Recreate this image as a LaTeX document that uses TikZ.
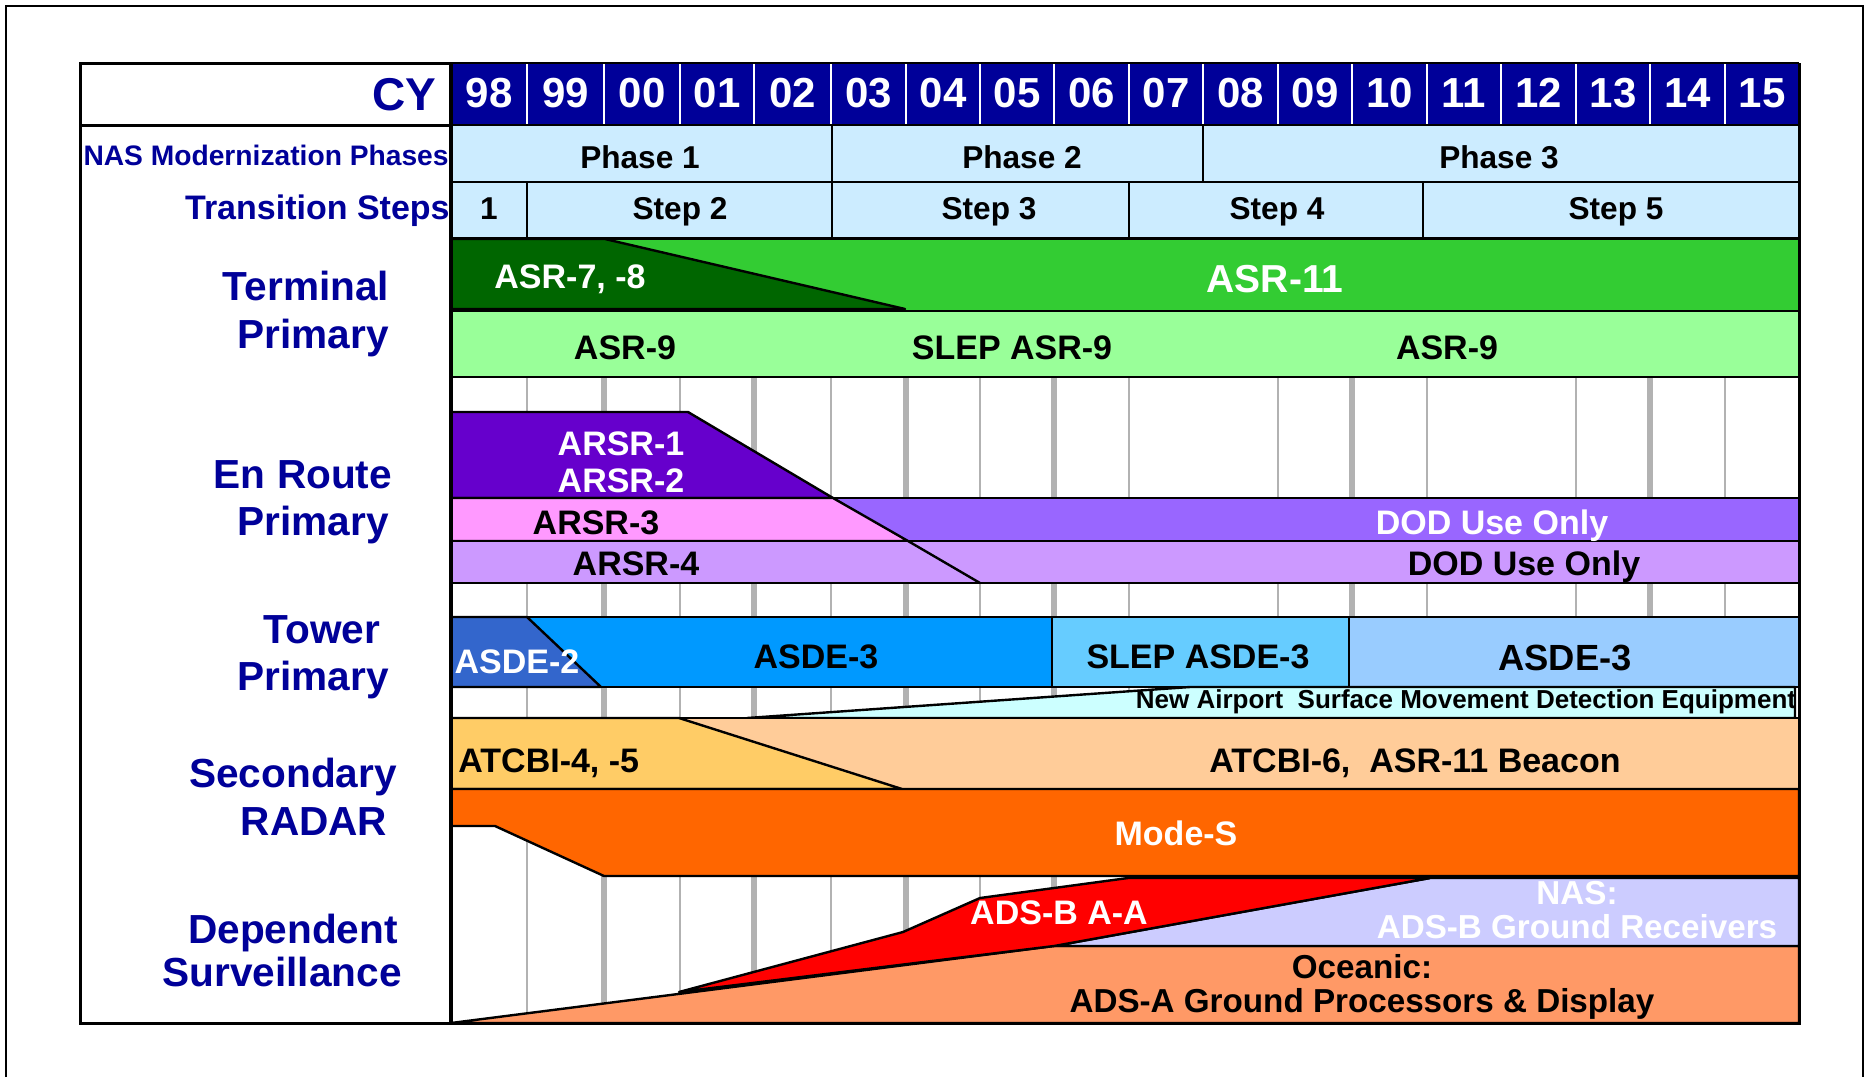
\documentclass[tikz,border=0pt]{standalone}
\usepackage{fontspec}
\setmainfont{Liberation Sans}
\definecolor{navy}{HTML}{000099}
\definecolor{phasebg}{HTML}{CCECFF}
\definecolor{gridgray}{HTML}{B2B2B2}
\definecolor{asrlime}{HTML}{33CC33}
\definecolor{asrdark}{HTML}{006600}
\definecolor{asrnine}{HTML}{99FF99}
\definecolor{arsrone}{HTML}{6600CC}
\definecolor{arsrthree}{HTML}{FF99FF}
\definecolor{dodpurple}{HTML}{9966FF}
\definecolor{arsrfour}{HTML}{CC99FF}
\definecolor{asdetwo}{HTML}{3366CC}
\definecolor{asdethree}{HTML}{0099FF}
\definecolor{slepasde}{HTML}{66CCFF}
\definecolor{asdelight}{HTML}{99CCFF}
\definecolor{newasde}{HTML}{CCFFFF}
\definecolor{atcbiold}{HTML}{FFCC66}
\definecolor{atcbinew}{HTML}{FFCC99}
\definecolor{modes}{HTML}{FF6600}
\definecolor{adsbred}{HTML}{FF0000}
\definecolor{naslav}{HTML}{CCCCFF}
\definecolor{oceanic}{HTML}{FF9966}
\begin{document}
\begin{tikzpicture}[x=0.5pt,y=-0.5pt,
  band/.style={draw=black,line width=1.2pt,line join=round},
  cell/.style={draw=black,line width=1.2pt,fill=phasebg},
  thingrid/.style={draw=gridgray,line width=1.1pt},
  thickgrid/.style={draw=gridgray,line width=3.4pt},
  lbl/.style={font=\fontsize{17}{20}\selectfont\bfseries,anchor=base,inner sep=0pt},
  lblw/.style={lbl,text=white},
  small/.style={font=\fontsize{16.6}{20}\selectfont\bfseries},
  hdr/.style={font=\fontsize{15.8}{19}\selectfont\bfseries,anchor=base,inner sep=0pt},
  yr/.style={font=\fontsize{21}{25}\selectfont\bfseries,text=white,anchor=base,inner sep=0pt},
  side/.style={font=\fontsize{20.3}{24}\selectfont\bfseries,text=navy,anchor=base,inner sep=0pt}]
\path[use as bounding box,fill=white] (0,0) rectangle (1867,1077);
% outer frame
\draw[line width=1.2pt] (6,1077) -- (6,6) -- (1863,6) -- (1863,1077);
% grid lines
\foreach \x in {527,680,831,980,1129,1278,1427,1576,1725}
  \draw[thingrid] (\x,239) -- (\x,1023);
\foreach \x in {604,754,906,1054,1352,1650}
  \draw[thickgrid] (\x,239) -- (\x,1023);
% Terminal primary
\draw[band,fill=asrlime] (451,239) rectangle (1799,311);
\draw[band,fill=asrdark] (451,239) -- (605,239) -- (905,309) -- (451,309) -- cycle;
\draw[band,fill=asrnine] (451,311) rectangle (1799,377);
% En route primary
\draw[band,fill=arsrone] (451,412) -- (688,412) -- (833,498) -- (451,498) -- cycle;
\draw[band,fill=dodpurple] (451,498) rectangle (1799,541);
\draw[band,fill=arsrthree] (451,498) -- (833,498) -- (908,541) -- (451,541) -- cycle;
\draw[band,fill=arsrfour] (451,541) rectangle (1799,583);
\draw[band] (908,541) -- (980,583);
% Tower primary
\draw[band,fill=asdethree] (451,617) rectangle (1052,687);
\draw[band,fill=asdetwo] (451,617) -- (527,617) -- (601,687) -- (451,687) -- cycle;
\draw[band,fill=slepasde] (1052,617) rectangle (1349,687);
\draw[band,fill=asdelight] (1349,617) rectangle (1799,687);
\draw[band,fill=newasde] (747,718) -- (1190,687) -- (1795,687) -- (1795,718) -- cycle;
% Secondary radar
\draw[band,fill=atcbinew] (451,718) rectangle (1799,789);
\draw[band,fill=atcbiold] (451,718) -- (679,718) -- (902,789) -- (451,789) -- cycle;
\draw[band,fill=modes] (451,789) -- (1799,789) -- (1799,876) -- (604,876) -- (495,826) -- (451,826) -- cycle;
% Dependent surveillance
\draw[band,fill=oceanic] (451,1023) -- (1054,946) -- (1799,946) -- (1799,1023) -- cycle;
\draw[band,fill=naslav] (1430,878) -- (1799,878) -- (1799,946) -- (1054,946) -- cycle;
\draw[band,fill=adsbred] (679,992) -- (903,932) -- (980,898) -- (1128,878) -- (1430,878) -- (1054,946) -- cycle;
% header: years
\foreach \a/\b/\t in {451/527/98,527/604/99,604/680/00,680/754/01,754/831/02,831/906/03,906/980/04,980/1054/05,1054/1129/06,1129/1203/07,1203/1278/08,1278/1352/09,1352/1427/10,1427/1501/11,1501/1576/12,1576/1650/13,1650/1725/14,1725/1799/15}{
  \fill[navy] (\a,63) rectangle (\b,125);
  \node[yr] (yr\t) at ({(\a+\b)/2},107) {\t};
}
\foreach \x in {527,604,680,754,831,906,980,1054,1129,1203,1278,1352,1427,1501,1576,1650,1725}
  \draw[white,line width=1pt] (\x,64) -- (\x,124);
\draw[line width=1.4pt] (451,63) -- (1799,63);
% phases
\draw[cell] (451,125) rectangle (832,182);
\draw[cell] (832,125) rectangle (1203,182);
\draw[cell] (1203,125) rectangle (1799,182);
% steps
\draw[cell] (451,182) rectangle (527,238);
\draw[cell] (527,182) rectangle (832,238);
\draw[cell] (832,182) rectangle (1129,238);
\draw[cell] (1129,182) rectangle (1423,238);
\draw[cell] (1423,182) rectangle (1799,238);
% table frame
\draw[line width=1.5pt] (80,63) rectangle (451,1023);
\draw[line width=1.5pt] (80,125) -- (451,125);
\draw[line width=1.5pt] (451,1023) -- (1799,1023) -- (1799,63);
\draw[line width=2pt] (451,63) -- (451,1023);
% header texts
\node[font=\fontsize{23}{27}\selectfont\bfseries,text=navy,anchor=base east,inner sep=0pt] (cy) at (437,110) {CY};
\node[font=\fontsize{14.1}{17}\selectfont\bfseries,text=navy,anchor=base east,inner sep=0pt] (nasphases) at (449,165) {NAS Modernization Phases};
\node[font=\fontsize{17}{20}\selectfont\bfseries,text=navy,anchor=base east,inner sep=0pt] (tsteps) at (450,219) {Transition Steps};
\node[hdr] (ph1) at (640,168) {Phase 1};
\node[hdr] (ph2) at (1022,168) {Phase 2};
\node[hdr] (ph3) at (1499,168) {Phase 3};
\node[hdr] (st1) at (489,219) {1};
\node[hdr] (st2) at (680,219) {Step 2};
\node[hdr] (st3) at (989,219) {Step 3};
\node[hdr] (st4) at (1277,219) {Step 4};
\node[hdr] (st5) at (1616,219) {Step 5};
% side labels
\node[side] (sterm) at (306,300) {Terminal};
\node[side] (sprim1) at (313,348) {Primary};
\node[side] (senr) at (303,488) {En Route};
\node[side] (sprim2) at (313,535) {Primary};
\node[side] (stow) at (322,643) {Tower};
\node[side] (sprim3) at (313,690) {Primary};
\node[side] (ssec) at (293,787) {Secondary};
\node[side] (srad) at (314,835) {RADAR};
\node[side] (sdep) at (293,943) {Dependent};
\node[side] (ssur) at (282,986) {Surveillance};
% band labels
\node[lblw] (asr78) at (570,288) {ASR-7, -8};
\node[lblw,font=\fontsize{19.5}{23}\selectfont\bfseries] (asr11) at (1275,292) {ASR-11};
\node[lbl] (asr9a) at (625,359) {ASR-9};
\node[lbl] (slepasr) at (1012,359) {SLEP ASR-9};
\node[lbl] (asr9b) at (1447,359) {ASR-9};
\node[lblw] (arsr1) at (621,455) {ARSR-1};
\node[lblw] (arsr2) at (621,492) {ARSR-2};
\node[lbl] (arsr3) at (596,534) {ARSR-3};
\node[lblw] (dod1) at (1492,534) {DOD Use Only};
\node[lbl] (arsr4) at (636,575) {ARSR-4};
\node[lbl] (dod2) at (1524,575) {DOD Use Only};
\node[lblw] (asde2) at (517,673) {ASDE-2};
\node[lbl] (asde3a) at (816,668) {ASDE-3};
\node[lbl] (slepasde) at (1198,668) {SLEP ASDE-3};
\node[lbl,font=\fontsize{18.2}{22}\selectfont\bfseries] (asde3b) at (1565,670) {ASDE-3};
\node[lbl,font=\fontsize{13}{15}\selectfont\bfseries] (newasde) at (1466,708) {New Airport\ \ Surface Movement Detection Equipment};
\node[lbl,anchor=base west] (atcbi45) at (458,772) {ATCBI-4, -5};
\node[lbl] (atcbi6) at (1415,772) {ATCBI-6,\ \ ASR-11 Beacon};
\node[lblw] (modeslbl) at (1176,845) {Mode-S};
\node[lblw] (adsbaa) at (1059,924) {ADS-B A-A};
\node[lblw,small] (nas) at (1577,904) {NAS:};
\node[lblw,small] (adsbgr) at (1577,938) {ADS-B Ground Receivers};
\node[lbl,small] (ocean) at (1362,978) {Oceanic:};
\node[lbl,small] (adsa) at (1362,1012) {ADS-A Ground Processors \& Display};
\end{tikzpicture}
\end{document}
